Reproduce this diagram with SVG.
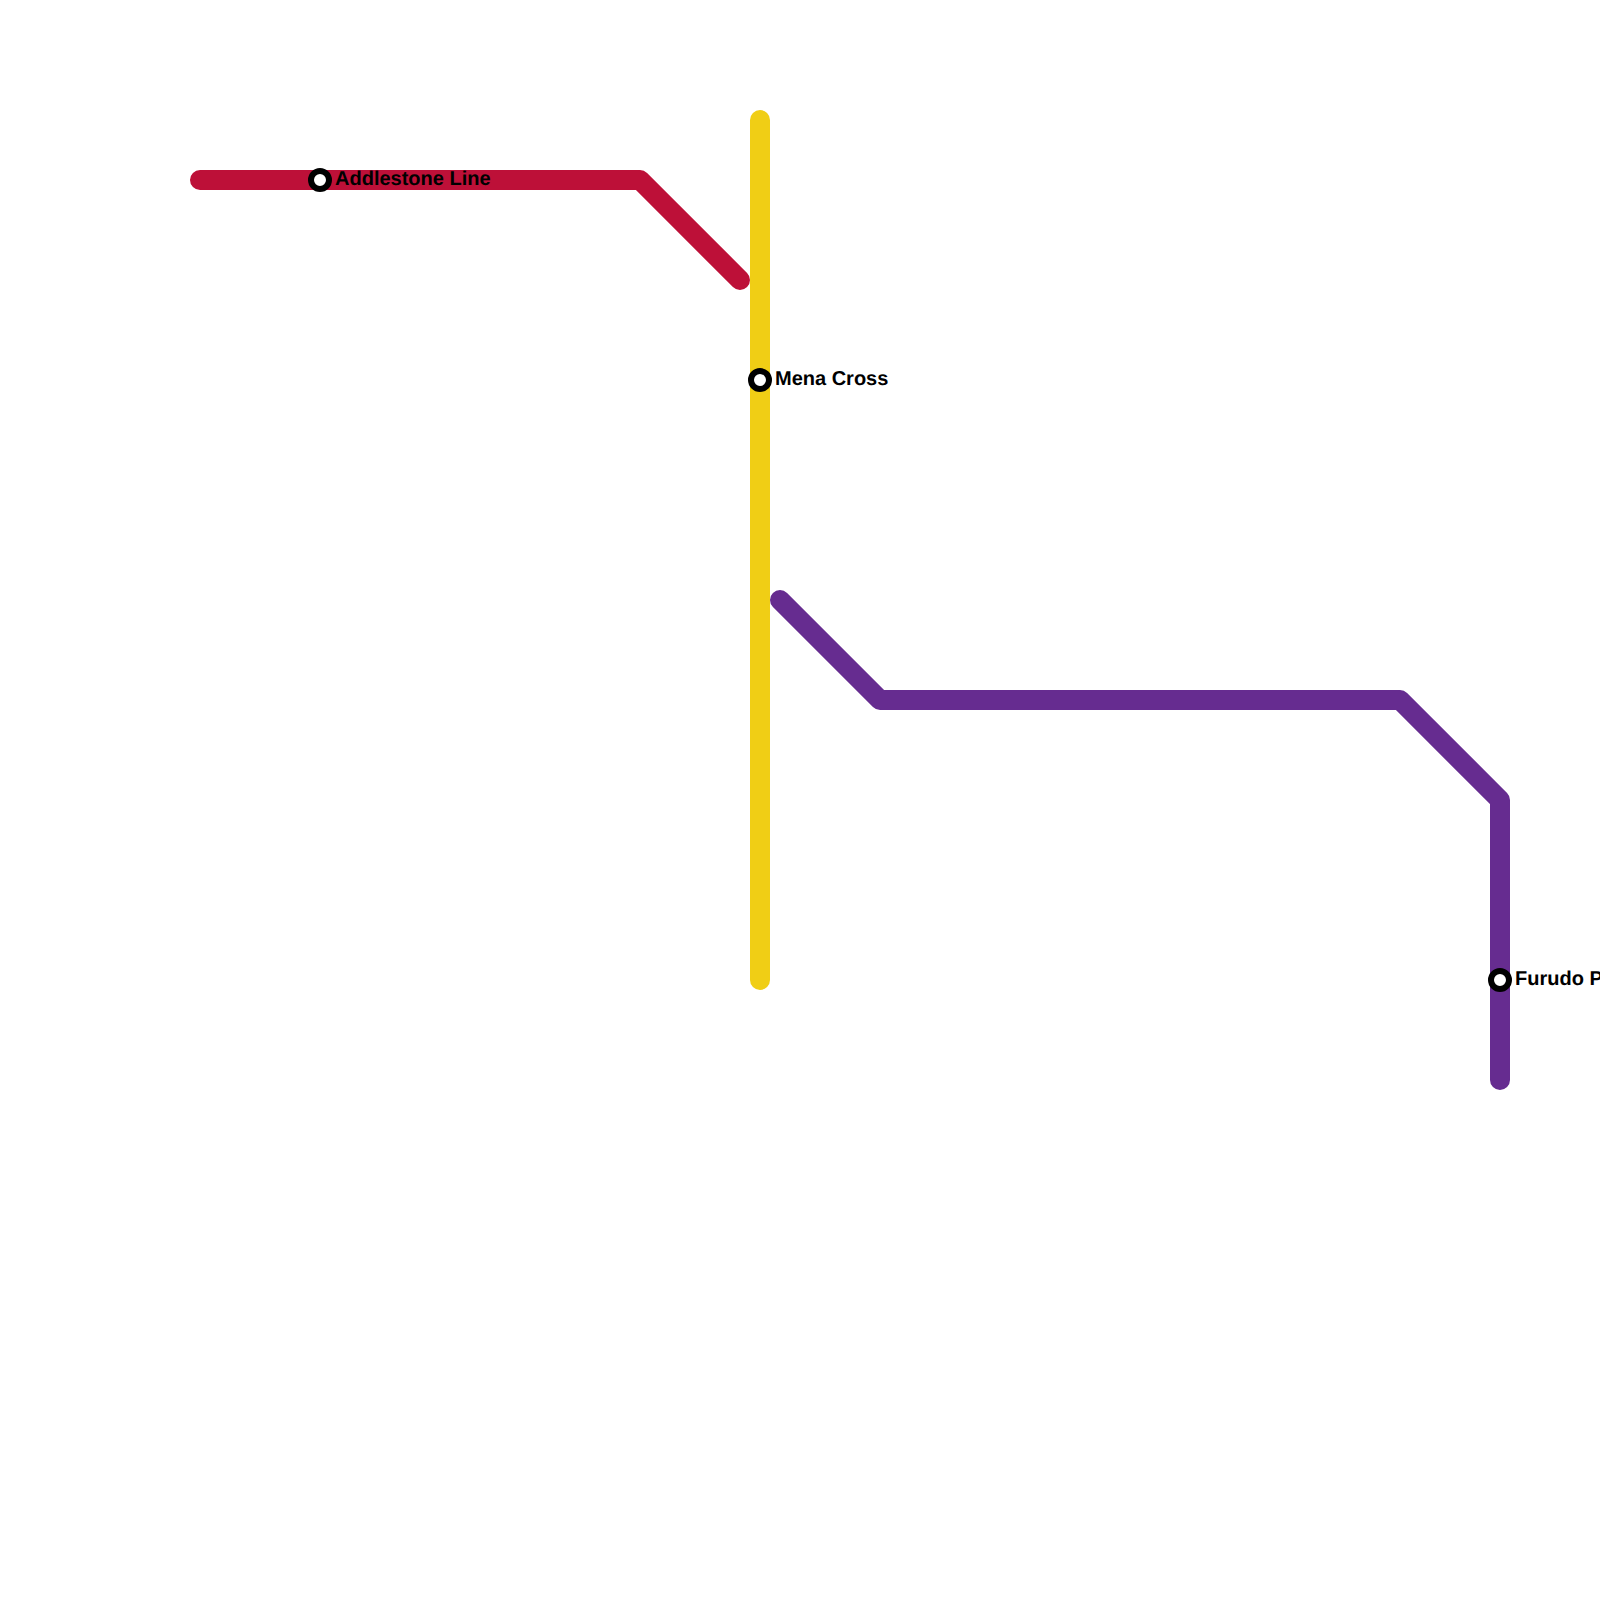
<svg xmlns="http://www.w3.org/2000/svg" width="1600" height="1600" viewBox="0 0 1600 1600">
<style>
.line{fill:none;stroke-width:20;stroke-linecap:round;stroke-linejoin:round}
.st{fill:#fff;stroke:#000;stroke-width:6}
.lb{font-family:"Liberation Sans",Arial,sans-serif;font-weight:700;font-size:20px;fill:#000;text-rendering:geometricPrecision}
</style>
<rect width="1600" height="1600" fill="#fff"/>
<g id="connectors">
<path class="line" stroke="#bd1038" d="M200 180H640L740 280"/>
<path class="line" stroke="#f0ce15" d="M760 120V980"/>
<path class="line" stroke="#662c90" d="M780 600L880 700H1400L1500 800V1080"/>
</g>
<g id="station-addlestone"><circle class="st" cx="320" cy="180" r="9"/><text class="lb" x="335" y="185">Addlestone Line</text></g>
<g id="station-mena"><circle class="st" cx="760" cy="380" r="9"/><text class="lb" x="775" y="385">Mena Cross</text></g>
<g id="station-furudo"><circle class="st" cx="1500" cy="980" r="9"/><text class="lb" x="1515" y="985">Furudo P</text></g>
</svg>
